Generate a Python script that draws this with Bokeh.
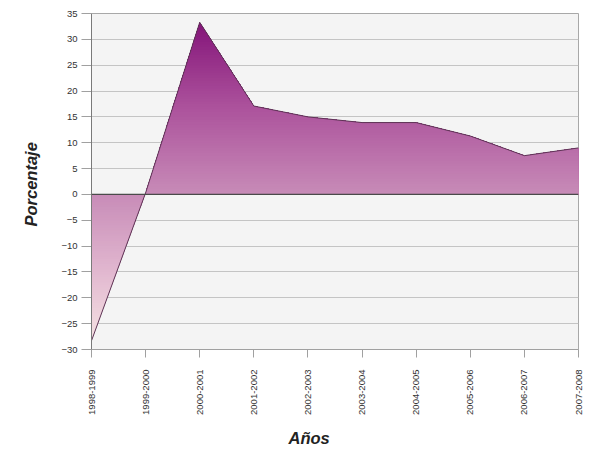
import numpy as np
from bokeh.plotting import figure
from bokeh.models import Range1d, FixedTicker, Title, Span
from bokeh.embed import file_html
from bokeh.resources import INLINE

# ---- data ----
categories = ["1998-1999", "1999-2000", "2000-2001", "2001-2002", "2002-2003",
              "2003-2004", "2004-2005", "2005-2006", "2006-2007", "2007-2008"]
values = [-28.3, 0.3, 33.3, 17.1, 15.0, 13.9, 13.9, 11.3, 7.5, 9.0]
y_ticks = list(range(-30, 40, 5))

FONT = "Liberation Sans"

p = figure(width=587, height=455, output_backend="svg", toolbar_location=None,
           x_range=Range1d(0, len(categories) - 1), y_range=Range1d(-30, 35),
           min_border_left=91, min_border_right=9, min_border_top=13, min_border_bottom=105)
p.border_fill_color = "white"
p.outline_line_color = "#A8A8A8"
p.background_fill_color = "#F4F4F4"

idx = np.arange(len(categories))
xs = np.linspace(0, len(categories) - 1, 901)
curve = np.interp(xs, idx, values)

# gradient colour ramp (value -> rgb)
anchors_v = [-30, -15, 0, 17, 35]
anchors_c = [(248, 232, 230), (226, 184, 208), (200, 140, 184), (172, 82, 156), (128, 14, 118)]

def col(v):
    r = np.interp(v, anchors_v, [c[0] for c in anchors_c])
    g = np.interp(v, anchors_v, [c[1] for c in anchors_c])
    b = np.interp(v, anchors_v, [c[2] for c in anchors_c])
    return "#%02x%02x%02x" % (int(r), int(g), int(b))

step = 0.5
for b in np.arange(35, 0, -step):
    p.varea(x=xs, y1=np.zeros_like(xs), y2=np.clip(curve, 0, b),
            fill_color=col(b - step / 2), fill_alpha=1.0)
for a in np.arange(-30, 0, step):
    p.varea(x=xs, y1=np.clip(curve, a, 0), y2=np.zeros_like(xs),
            fill_color=col(a + step / 2), fill_alpha=1.0)

p.line(idx, values, line_color="#5E3556", line_width=1)
p.add_layout(Span(location=0, dimension="width", line_color="#4A4A4A", line_width=1.2))
p.add_layout(Span(location=0, dimension="height", line_color="#555555", line_width=1))

p.xgrid.grid_line_color = None
p.ygrid.grid_line_color = "#C4C4C4"
p.ygrid.grid_line_width = 1
p.ygrid.level = "underlay"

p.yaxis.ticker = FixedTicker(ticks=y_ticks)
p.yaxis.minor_tick_line_color = None
p.yaxis.major_tick_out = 10
p.yaxis.major_tick_in = 0
p.yaxis.major_label_standoff = 4
p.yaxis.axis_line_color = "#A0A0A0"
p.yaxis.major_tick_line_color = "#A0A0A0"
p.yaxis.major_label_text_font = FONT
p.yaxis.major_label_text_font_size = "9.5px"
p.yaxis.major_label_text_color = "#333333"

p.xaxis.ticker = FixedTicker(ticks=list(idx))
p.xaxis.major_label_overrides = {int(i): c for i, c in zip(idx, categories)}
p.xaxis.major_label_orientation = np.pi / 2
p.xaxis.minor_tick_line_color = None
p.xaxis.major_tick_out = 8
p.xaxis.major_tick_in = 0
p.xaxis.major_label_standoff = 12
p.xaxis.axis_line_color = "#A0A0A0"
p.xaxis.major_tick_line_color = "#A0A0A0"
p.xaxis.major_label_text_font = FONT
p.xaxis.major_label_text_font_size = "9.5px"
p.xaxis.major_label_text_color = "#333333"

# axis titles
p.add_layout(Title(text="Años", align="left", offset=197, standoff=18, vertical_align="bottom",
                   text_font=FONT, text_font_size="16.5px", text_font_style="bold italic",
                   text_color="#222222"), "below")
p.add_layout(Title(text="Porcentaje", align="left", offset=123, standoff=38,
                   text_font=FONT, text_font_size="16.5px", text_font_style="bold italic",
                   text_color="#222222"), "left")

open("out.html", "w").write(file_html(p, INLINE))
